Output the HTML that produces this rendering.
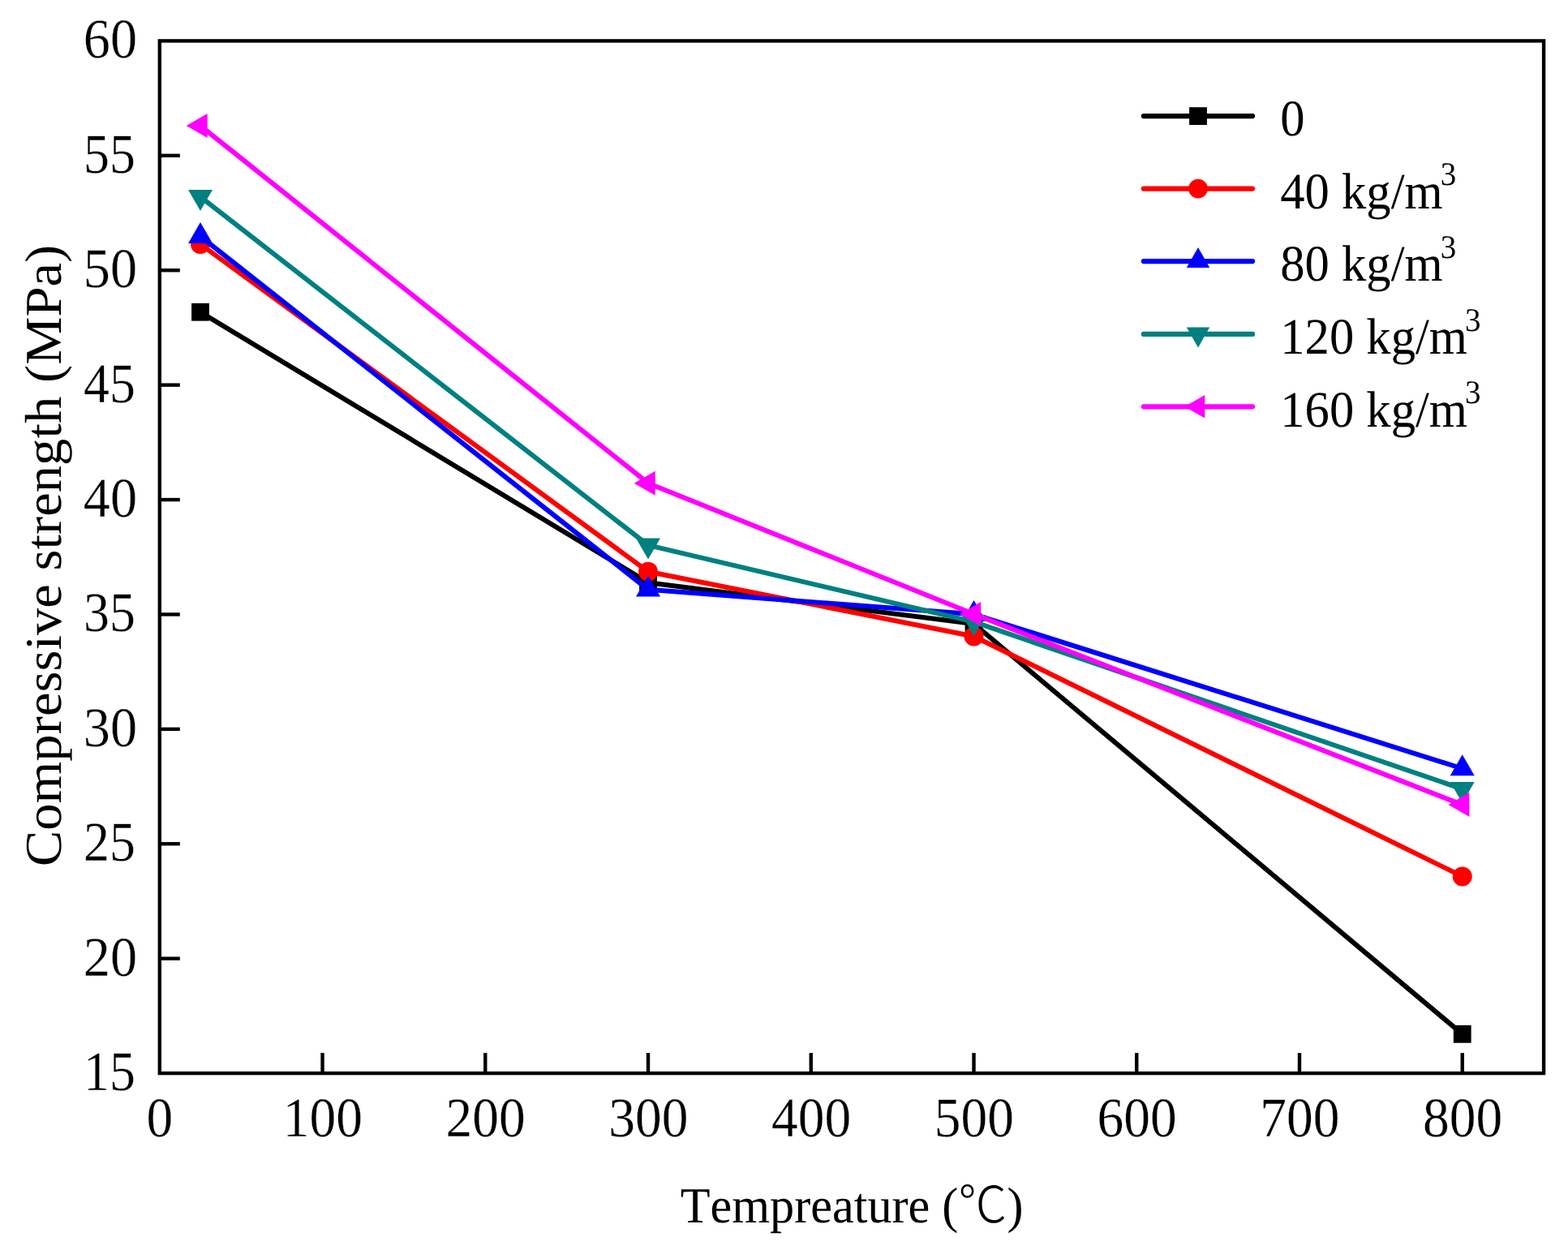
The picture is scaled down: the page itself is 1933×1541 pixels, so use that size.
<!DOCTYPE html>
<html lang="en"><head><meta charset="utf-8"><title>Compressive strength (MPa) vs Tempreature</title>
<style>
html,body{margin:0;padding:0;background:#fff;}
body{width:1933px;height:1541px;overflow:hidden;}
svg{display:block;}
text{font-family:"Liberation Serif","Noto Serif CJK SC",serif;fill:#000;font-kerning:none;text-rendering:geometricPrecision;stroke:#fff;paint-order:fill stroke;stroke-linejoin:round;}
.cjk{font-family:"Noto Sans CJK SC","Noto Sans CJK JP","WenQuanYi Zen Hei",sans-serif;font-weight:300;}
</style></head><body>
<svg width="1933" height="1541" viewBox="0 0 1933 1541">
<rect x="0" y="0" width="1933" height="1541" fill="#ffffff"/>
<g stroke="#000" fill="none">
<line x1="397.54" y1="1323.10" x2="397.54" y2="1298.10" stroke-width="4.4"/>
<line x1="598.28" y1="1323.10" x2="598.28" y2="1298.10" stroke-width="4.4"/>
<line x1="799.02" y1="1323.10" x2="799.02" y2="1298.10" stroke-width="4.4"/>
<line x1="999.76" y1="1323.10" x2="999.76" y2="1298.10" stroke-width="4.4"/>
<line x1="1200.51" y1="1323.10" x2="1200.51" y2="1298.10" stroke-width="4.4"/>
<line x1="1401.25" y1="1323.10" x2="1401.25" y2="1298.10" stroke-width="4.4"/>
<line x1="1601.99" y1="1323.10" x2="1601.99" y2="1298.10" stroke-width="4.4"/>
<line x1="1802.73" y1="1323.10" x2="1802.73" y2="1298.10" stroke-width="4.4"/>
<line x1="196.80" y1="1181.69" x2="221.80" y2="1181.69" stroke-width="4.4"/>
<line x1="196.80" y1="1040.28" x2="221.80" y2="1040.28" stroke-width="4.4"/>
<line x1="196.80" y1="898.87" x2="221.80" y2="898.87" stroke-width="4.4"/>
<line x1="196.80" y1="757.46" x2="221.80" y2="757.46" stroke-width="4.4"/>
<line x1="196.80" y1="616.04" x2="221.80" y2="616.04" stroke-width="4.4"/>
<line x1="196.80" y1="474.63" x2="221.80" y2="474.63" stroke-width="4.4"/>
<line x1="196.80" y1="333.22" x2="221.80" y2="333.22" stroke-width="4.4"/>
<line x1="196.80" y1="191.81" x2="221.80" y2="191.81" stroke-width="4.4"/>
<rect x="196.8" y="50.4" width="1706.30" height="1272.70" stroke-width="4.4"/>
</g>
<polyline points="246.99,384.70 799.02,718.20 1200.51,769.00 1802.73,1274.80" fill="none" stroke="#000000" stroke-width="6.0" stroke-linejoin="round" stroke-linecap="butt"/>
<rect x="236.09" y="373.80" width="21.8" height="21.8" fill="#000000"/>
<rect x="788.12" y="707.30" width="21.8" height="21.8" fill="#000000"/>
<rect x="1189.61" y="758.10" width="21.8" height="21.8" fill="#000000"/>
<rect x="1791.83" y="1263.90" width="21.8" height="21.8" fill="#000000"/>
<polyline points="246.99,301.00 799.02,704.70 1200.51,784.50 1802.73,1080.40" fill="none" stroke="#ff0000" stroke-width="6.0" stroke-linejoin="round" stroke-linecap="butt"/>
<circle cx="246.99" cy="301.00" r="12.0" fill="#ff0000"/>
<circle cx="799.02" cy="704.70" r="12.0" fill="#ff0000"/>
<circle cx="1200.51" cy="784.50" r="12.0" fill="#ff0000"/>
<circle cx="1802.73" cy="1080.40" r="12.0" fill="#ff0000"/>
<polyline points="246.99,291.30 799.02,726.80 1200.51,757.30 1802.73,947.50" fill="none" stroke="#0000ff" stroke-width="6.0" stroke-linejoin="round" stroke-linecap="butt"/>
<polygon points="246.99,273.97 231.99,299.97 261.99,299.97" fill="#0000ff"/>
<polygon points="799.02,709.47 784.02,735.47 814.02,735.47" fill="#0000ff"/>
<polygon points="1200.51,739.97 1185.51,765.97 1215.51,765.97" fill="#0000ff"/>
<polygon points="1802.73,930.17 1787.73,956.17 1817.73,956.17" fill="#0000ff"/>
<polyline points="246.99,242.60 799.02,672.20 1200.51,766.70 1802.73,972.70" fill="none" stroke="#008080" stroke-width="6.0" stroke-linejoin="round" stroke-linecap="butt"/>
<polygon points="246.99,259.93 231.99,233.93 261.99,233.93" fill="#008080"/>
<polygon points="799.02,689.53 784.02,663.53 814.02,663.53" fill="#008080"/>
<polygon points="1200.51,784.03 1185.51,758.03 1215.51,758.03" fill="#008080"/>
<polygon points="1802.73,990.03 1787.73,964.03 1817.73,964.03" fill="#008080"/>
<polyline points="246.99,155.00 799.02,595.70 1200.51,757.00 1802.73,992.10" fill="none" stroke="#ff00ff" stroke-width="6.0" stroke-linejoin="round" stroke-linecap="butt"/>
<polygon points="229.65,155.00 255.65,140.00 255.65,170.00" fill="#ff00ff"/>
<polygon points="781.69,595.70 807.69,580.70 807.69,610.70" fill="#ff00ff"/>
<polygon points="1183.17,757.00 1209.17,742.00 1209.17,772.00" fill="#ff00ff"/>
<polygon points="1785.40,992.10 1811.40,977.10 1811.40,1007.10" fill="#ff00ff"/>
<text transform="translate(169.10,71.30) scale(0.96,1)" font-size="69.0" text-anchor="end" stroke-width="0.3">60</text>
<text transform="translate(166.90,212.71) scale(0.925,1)" font-size="69.0" text-anchor="end" stroke-width="0.3">55</text>
<text transform="translate(169.10,354.12) scale(0.96,1)" font-size="69.0" text-anchor="end" stroke-width="0.3">50</text>
<text transform="translate(166.90,495.53) scale(0.925,1)" font-size="69.0" text-anchor="end" stroke-width="0.3">45</text>
<text transform="translate(169.10,636.94) scale(0.96,1)" font-size="69.0" text-anchor="end" stroke-width="0.3">40</text>
<text transform="translate(166.90,778.36) scale(0.925,1)" font-size="69.0" text-anchor="end" stroke-width="0.3">35</text>
<text transform="translate(169.10,919.77) scale(0.96,1)" font-size="69.0" text-anchor="end" stroke-width="0.3">30</text>
<text transform="translate(166.90,1061.18) scale(0.925,1)" font-size="69.0" text-anchor="end" stroke-width="0.3">25</text>
<text transform="translate(169.10,1202.59) scale(0.96,1)" font-size="69.0" text-anchor="end" stroke-width="0.3">20</text>
<text transform="translate(166.90,1344.00) scale(0.925,1)" font-size="69.0" text-anchor="end" stroke-width="0.3">15</text>
<text transform="translate(196.80,1401.15) scale(0.948,1)" font-size="69.0" text-anchor="middle" stroke-width="0.3">0</text>
<text transform="translate(397.84,1401.15) scale(0.948,1)" font-size="69.0" text-anchor="middle" stroke-width="0.3">100</text>
<text transform="translate(598.58,1401.15) scale(0.948,1)" font-size="69.0" text-anchor="middle" stroke-width="0.3">200</text>
<text transform="translate(799.32,1401.15) scale(0.948,1)" font-size="69.0" text-anchor="middle" stroke-width="0.3">300</text>
<text transform="translate(1000.06,1401.15) scale(0.948,1)" font-size="69.0" text-anchor="middle" stroke-width="0.3">400</text>
<text transform="translate(1200.81,1401.15) scale(0.948,1)" font-size="69.0" text-anchor="middle" stroke-width="0.3">500</text>
<text transform="translate(1401.55,1401.15) scale(0.948,1)" font-size="69.0" text-anchor="middle" stroke-width="0.3">600</text>
<text transform="translate(1602.29,1401.15) scale(0.948,1)" font-size="69.0" text-anchor="middle" stroke-width="0.3">700</text>
<text transform="translate(1803.03,1401.15) scale(0.948,1)" font-size="69.0" text-anchor="middle" stroke-width="0.3">800</text>
<text transform="translate(1050.20,1507.00) scale(0.968,1)" font-size="62.2" text-anchor="middle" stroke-width="0">Tempreature (<tspan class="cjk">℃</tspan>)</text>
<text transform="translate(75.20,685.00) rotate(-90) scale(1.045,1)" font-size="63.8" text-anchor="middle" stroke-width="0">Compressive strength (MPa)</text>
<line x1="1409.9" y1="143.10" x2="1544.0" y2="143.10" stroke="#000000" stroke-width="6.3" stroke-linecap="round"/>
<rect x="1466.10" y="132.20" width="21.8" height="21.8" fill="#000000"/>
<text transform="translate(1578.30,167.40) scale(0.962,1)" font-size="63.0" text-anchor="start" stroke-width="0">0</text>
<line x1="1409.9" y1="232.60" x2="1544.0" y2="232.60" stroke="#ff0000" stroke-width="6.3" stroke-linecap="round"/>
<circle cx="1477.00" cy="232.60" r="11.9" fill="#ff0000"/>
<text transform="translate(1578.30,256.90) scale(0.962,1)" font-size="63.0" text-anchor="start" stroke-width="0">40 kg/m<tspan dx="-3.1" dy="-28.5" font-size="40.6">3</tspan></text>
<line x1="1409.9" y1="322.10" x2="1544.0" y2="322.10" stroke="#0000ff" stroke-width="6.3" stroke-linecap="round"/>
<polygon points="1477.00,305.03 1462.80,330.03 1491.20,330.03" fill="#0000ff"/>
<text transform="translate(1578.30,346.40) scale(0.962,1)" font-size="63.0" text-anchor="start" stroke-width="0">80 kg/m<tspan dx="-3.1" dy="-28.5" font-size="40.6">3</tspan></text>
<line x1="1409.9" y1="411.90" x2="1544.0" y2="411.90" stroke="#008080" stroke-width="6.3" stroke-linecap="round"/>
<polygon points="1477.00,428.57 1462.80,403.57 1491.20,403.57" fill="#008080"/>
<text transform="translate(1578.30,436.20) scale(0.962,1)" font-size="63.0" text-anchor="start" stroke-width="0">120 kg/m<tspan dx="-3.1" dy="-28.5" font-size="40.6">3</tspan></text>
<line x1="1409.9" y1="501.30" x2="1544.0" y2="501.30" stroke="#ff00ff" stroke-width="6.3" stroke-linecap="round"/>
<polygon points="1460.33,501.30 1485.33,487.10 1485.33,515.50" fill="#ff00ff"/>
<text transform="translate(1578.30,525.60) scale(0.962,1)" font-size="63.0" text-anchor="start" stroke-width="0">160 kg/m<tspan dx="-3.1" dy="-28.5" font-size="40.6">3</tspan></text>
</svg>
</body></html>
